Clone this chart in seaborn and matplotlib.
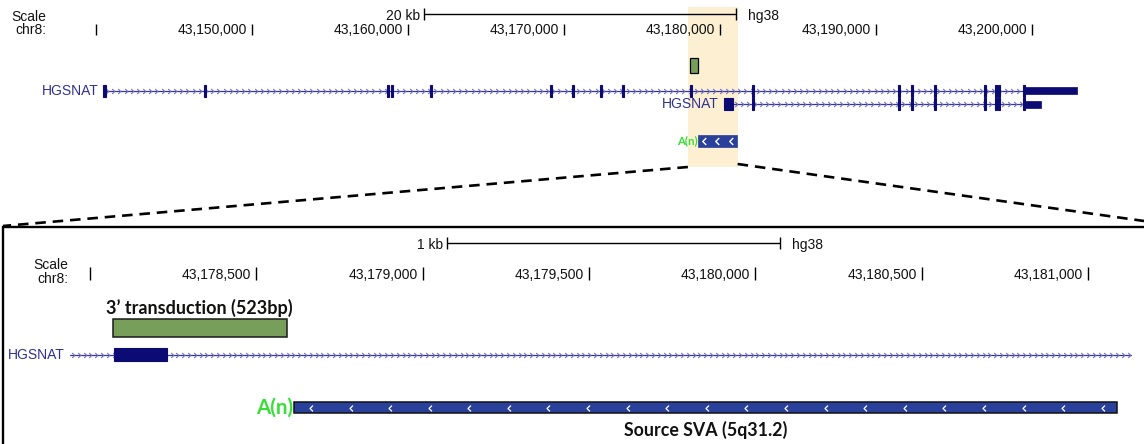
import numpy as np
import matplotlib
matplotlib.use("Agg")
import matplotlib.pyplot as plt
import seaborn as sns
from matplotlib.path import Path

# ---------------- data ----------------
chrom = "chr8"
assembly = "hg38"
gene_name = "HGSNAT"

top_ticks = [43140000, 43150000, 43160000, 43170000, 43180000, 43190000, 43200000]
top_tick_labels = ["", "43,150,000", "43,160,000", "43,170,000", "43,180,000", "43,190,000", "43,200,000"]
top_scalebar = (43161030, 43181030)
top_scalebar_label = "20 kb"

bot_ticks = [43178000, 43178500, 43179000, 43179500, 43180000, 43180500, 43181000]
bot_tick_labels = ["", "43,178,500", "43,179,000", "43,179,500", "43,180,000", "43,180,500", "43,181,000"]
bot_scalebar = (43179073, 43180073)
bot_scalebar_label = "1 kb"

# zoomed region (highlight)
view_region = (43177940, 43181130)

# transcript 1 (long isoform)
tx1_line = (43140500, 43199420)
tx1_exons = [(43140470, 43140640), (43146930, 43147060), (43158660, 43158790),
             (43158920, 43159050), (43161430, 43161510), (43169110, 43169230),
             (43170520, 43170640), (43172310, 43172430), (43173720, 43173840),
             (43178072, 43178231), (43182060, 43182180), (43191410, 43191540),
             (43192250, 43192370), (43193720, 43193840), (43196930, 43197050),
             (43197630, 43197750), (43197830, 43197950), (43199400, 43199520)]
tx1_utr = (43199400, 43202880)

# transcript 2 (short isoform)
tx2_line = (43180830, 43199420)
tx2_exons = [(43180250, 43180830), (43182060, 43182180), (43191410, 43191540),
             (43192250, 43192370), (43193720, 43193840), (43196930, 43197050),
             (43197630, 43197750), (43197830, 43197950), (43199400, 43199520)]
tx2_utr = (43199400, 43200560)

transduction = (43178068, 43178591)
transduction_label = "3\u2019 transduction (523bp)"
sva = (43178613, 43181087)
sva_label = "Source SVA (5q31.2)"
polyA_label = "A(n)"

# ---------------- style ----------------
W, H = 1144, 444
EXON = "#0b0b73"
LINE = "#34349a"
CHEV = "#6f6fc0"
LABEL_BLUE = "#2e3192"
HIGHLIGHT = "#fdefd2"
GREEN_BOX = "#779f5a"
SVA_BLUE = "#2a419b"
POLYA = "#36e036"

sns.set_theme(style="white")
plt.rcParams["font.family"] = ["Liberation Sans", "DejaVu Sans"]
BOLD_FONT = ["Lato", "DejaVu Sans"]

fig = plt.figure(figsize=(W / 100, H / 100), dpi=100)

# calibration (layout): pixel of a reference base and pixels per base
TOP_REF, TOP_REF_PX, TOP_PPB = 43140000, 96.0, 156.0 / 10000
BOT_REF, BOT_REF_PX, BOT_PPB = 43178000, 90.0, 166.35 / 500


def make_axes(ref, ref_px, ppb):
    ax = fig.add_axes([0, 0, 1, 1])
    ax.set_xlim(ref - ref_px / ppb, ref + (W - ref_px) / ppb)
    ax.set_ylim(H, 0)
    ax.axis("off")
    return ax


ax_t = make_axes(TOP_REF, TOP_REF_PX, TOP_PPB)
ax_b = make_axes(BOT_REF, BOT_REF_PX, BOT_PPB)
ax_f = fig.add_axes([0, 0, 1, 1])
ax_f.set_xlim(0, W)
ax_f.set_ylim(H, 0)
ax_f.axis("off")

chev_r = Path([(-0.5, 1), (0.5, 0), (-0.5, -1)], [Path.MOVETO, Path.LINETO, Path.LINETO])
chev_l = Path([(0.5, 1), (-0.5, 0), (0.5, -1)], [Path.MOVETO, Path.LINETO, Path.LINETO])


def ruler(ax, ticks, labels, y_tick, y_lab, scalebar, sb_label, y_sb, fs=10):
    ax.vlines(ticks, y_tick[0], y_tick[1], color="black", lw=1.0)
    for t, lab in zip(ticks, labels):
        if lab:
            ax.annotate(lab, xy=(t, y_lab), xytext=(-5, 0), textcoords="offset pixels",
                        ha="right", va="center", fontsize=fs, color="#111111")
    ax.hlines(y_sb, scalebar[0], scalebar[1], color="black", lw=1.0)
    ax.vlines(list(scalebar), y_sb - 6, y_sb + 6, color="black", lw=1.0)
    ax.annotate(sb_label, xy=(scalebar[0], y_sb + 2), xytext=(-4, 0), textcoords="offset pixels",
                ha="right", va="center", fontsize=fs, color="#111111")
    ax.annotate(assembly, xy=(scalebar[1], y_sb + 2), xytext=(12, 0), textcoords="offset pixels",
                ha="left", va="center", fontsize=fs, color="#111111")


def transcript(ax, line, exons, y, ppb, exon_h=12, utr=None, utr_h=7, spacing_px=6.2,
               label=None, label_x=None):
    s, e = line
    sns.lineplot(x=[s, e], y=[y, y], ax=ax, color=LINE, linewidth=0.9, estimator=None, legend=False)
    xs = np.arange(s + spacing_px / ppb / 2, e, spacing_px / ppb)
    ax.plot(xs, np.full(len(xs), y), ls="none", marker=chev_r, ms=3.6, mec=CHEV, mfc="none", mew=0.8)
    if utr is not None:
        ax.bar(utr[0], utr_h, width=utr[1] - utr[0], bottom=y - utr_h / 2, align="edge",
               color=EXON, edgecolor=EXON, linewidth=0.5, zorder=3)
    for a, b in exons:
        ax.bar(a, exon_h, width=b - a, bottom=y - exon_h / 2, align="edge",
               color=EXON, edgecolor=EXON, linewidth=0.8, zorder=3)
    if label:
        lx = s if label_x is None else label_x
        ax.annotate(label, xy=(lx, y), xytext=(-5, 0), textcoords="offset pixels",
                    ha="right", va="center", fontsize=10, color=LABEL_BLUE)


# ---------------- top panel ----------------
ax_t.bar(view_region[0], 160, width=view_region[1] - view_region[0], bottom=7, align="edge",
         color=HIGHLIGHT, linewidth=0, zorder=0)
ruler(ax_t, top_ticks, top_tick_labels, (24, 35), 30, top_scalebar, top_scalebar_label, 14)
ax_f.text(46, 17, "Scale", ha="right", va="center", fontsize=10, color="#111111")
ax_f.text(46, 30, chrom + ":", ha="right", va="center", fontsize=10, color="#111111")

ax_t.bar(transduction[0], 15, width=transduction[1] - transduction[0], bottom=58, align="edge",
         color=GREEN_BOX, edgecolor="black", linewidth=0.9, zorder=3)

transcript(ax_t, tx1_line, tx1_exons, 91, TOP_PPB, utr=tx1_utr, label=gene_name, label_x=tx1_exons[0][0])
transcript(ax_t, tx2_line, tx2_exons, 104, TOP_PPB, utr=tx2_utr, label=gene_name, label_x=tx2_exons[0][0])

ax_t.bar(sva[0], 12, width=sva[1] - sva[0], bottom=135, align="edge",
         color=SVA_BLUE, edgecolor=SVA_BLUE, linewidth=0.5, zorder=3)
sva_chev_top = np.arange(sva[0] + 360, sva[1], 860)
ax_t.plot(sva_chev_top, np.full(len(sva_chev_top), 141), ls="none", marker=chev_l, ms=5,
          mec="white", mfc="none", mew=1.0, zorder=4)
ax_t.annotate(polyA_label, xy=(sva[0], 141), xytext=(-1, 0), textcoords="offset pixels",
              ha="right", va="center", fontsize=8.2, color=POLYA, fontweight="bold",
              family=BOLD_FONT)

# ---------------- connectors / frame ----------------
def top_px(g):
    return TOP_REF_PX + (g - TOP_REF) * TOP_PPB

ax_f.plot([top_px(view_region[0]), 3], [167, 226], color="black", lw=1.9, ls=(0, (4, 2.6)))
ax_f.plot([top_px(view_region[1]), W], [164, 221], color="black", lw=1.9, ls=(0, (4, 2.6)))
ax_f.plot([3, 3, W], [H + 2, 227, 227], color="black", lw=1.7, solid_joinstyle="miter")

# ---------------- bottom (zoomed) panel ----------------
ruler(ax_b, bot_ticks, bot_tick_labels, (267, 280), 275, bot_scalebar, bot_scalebar_label, 243)
ax_f.text(68, 265, "Scale", ha="right", va="center", fontsize=10, color="#111111")
ax_f.text(68, 279, chrom + ":", ha="right", va="center", fontsize=10, color="#111111")

ax_b.bar(transduction[0], 18, width=transduction[1] - transduction[0], bottom=319, align="edge",
         color=GREEN_BOX, edgecolor="#1a1a1a", linewidth=1.1, zorder=3)
ax_b.text((transduction[0] + transduction[1]) / 2, 308, transduction_label, ha="center", va="center",
          fontsize=13, fontweight="bold", family=BOLD_FONT, color="#111111")

zoom_line = (max(tx1_line[0], view_region[0]), min(tx1_line[1], view_region[1]))
zoom_exons = [(a, b) for a, b in tx1_exons if b > view_region[0] and a < view_region[1]]
transcript(ax_b, zoom_line, zoom_exons, 354.5, BOT_PPB, exon_h=13, spacing_px=5.8,
           label=gene_name)

ax_b.bar(sva[0], 11, width=sva[1] - sva[0], bottom=402, align="edge",
         color=SVA_BLUE, edgecolor="#111111", linewidth=1.1, zorder=3)
sva_chev_bot = np.arange(sva[0] + 51, sva[1] - 30, 119)
ax_b.plot(sva_chev_bot, np.full(len(sva_chev_bot), 407.5), ls="none", marker=chev_l, ms=4.2,
          mec="white", mfc="none", mew=0.9, zorder=4)
ax_b.annotate(polyA_label, xy=(sva[0], 407.5), xytext=(-1, 0), textcoords="offset pixels",
              ha="right", va="center", fontsize=14.8, color=POLYA, fontweight="bold",
              family=BOLD_FONT)
ax_b.text((sva[0] + sva[1]) / 2, 430, sva_label, ha="center", va="center",
          fontsize=12.8, fontweight="bold", family=BOLD_FONT, color="#111111")

fig.savefig("out.png", dpi=100)
